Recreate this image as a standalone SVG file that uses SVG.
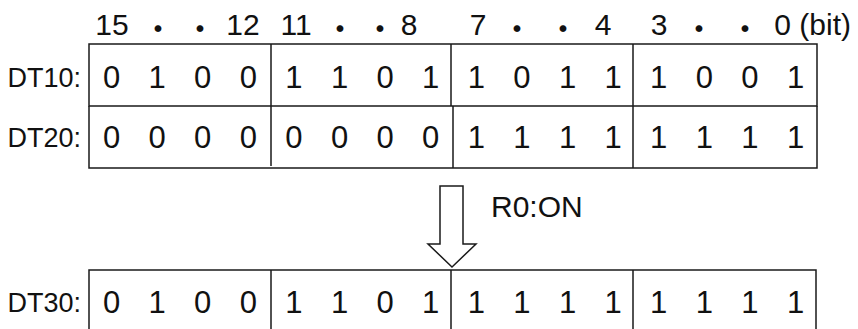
<svg xmlns="http://www.w3.org/2000/svg" width="858" height="329" viewBox="0 0 858 329">
<style>
.ln{stroke:#1a1a1a;stroke-width:1.5;fill:none}
.lbl{font-family:"Liberation Sans",Arial,sans-serif;font-size:27px;fill:#111;text-anchor:end}
.d{font-family:"Liberation Sans",Arial,sans-serif;font-size:31px;fill:#111;text-anchor:middle}
.h{font-family:"Liberation Sans",Arial,sans-serif;font-size:30px;fill:#111;text-anchor:middle}
.dot{font-family:"Liberation Sans","Noto Sans CJK JP",sans-serif;font-size:32px;fill:#111;text-anchor:middle}
</style>
<rect width="858" height="329" fill="#fff"/>
<g id="header">
<text class="h" x="112" y="35">15</text>
<text class="dot" x="158" y="41">・</text>
<text class="dot" x="200" y="41">・</text>
<text class="h" x="243" y="35">12</text>
<text class="h" x="296" y="35">11</text>
<text class="dot" x="340" y="41">・</text>
<text class="dot" x="380" y="41">・</text>
<text class="h" x="409" y="35">8</text>
<text class="h" x="478" y="35">7</text>
<text class="dot" x="517" y="41">・</text>
<text class="dot" x="563" y="41">・</text>
<text class="h" x="603" y="35">4</text>
<text class="h" x="659" y="35">3</text>
<text class="dot" x="699" y="41">・</text>
<text class="dot" x="745" y="41">・</text>
<text class="h" x="851" y="35" style="text-anchor:end">0 (bit)</text>
</g>
<g id="DT10">
<text class="lbl" x="81" y="87">DT10:</text>
<path class="ln" d="M89,44H817V106H89Z M271,44V106 M451,44V106 M633,44V106"/>
<text class="d" y="88"><tspan x="111.5">0</tspan><tspan x="157.1">1</tspan><tspan x="202.7">0</tspan><tspan x="248.3">0</tspan><tspan x="293.9">1</tspan><tspan x="339.5">1</tspan><tspan x="385.1">0</tspan><tspan x="430.7">1</tspan><tspan x="476.3">1</tspan><tspan x="521.9">0</tspan><tspan x="567.5">1</tspan><tspan x="613.1">1</tspan><tspan x="658.7">1</tspan><tspan x="704.3">0</tspan><tspan x="749.9">0</tspan><tspan x="795.5">1</tspan></text>
</g>
<g id="DT20">
<text class="lbl" x="81" y="147">DT20:</text>
<path class="ln" d="M89,106V168H817V106 M271,106V166 M453,106V168 M633,106V168"/>
<text class="d" y="148"><tspan x="111.5">0</tspan><tspan x="157.1">0</tspan><tspan x="202.7">0</tspan><tspan x="248.3">0</tspan><tspan x="293.9">0</tspan><tspan x="339.5">0</tspan><tspan x="385.1">0</tspan><tspan x="430.7">0</tspan><tspan x="476.3">1</tspan><tspan x="521.9">1</tspan><tspan x="567.5">1</tspan><tspan x="613.1">1</tspan><tspan x="658.7">1</tspan><tspan x="704.3">1</tspan><tspan x="749.9">1</tspan><tspan x="795.5">1</tspan></text>
</g>
<g id="connectors">
<polygon class="ln" style="fill:#fff" points="440,186 463,186 463,244 476,244 452,267 428,244 440,244"/>
<text class="h" x="491" y="217" style="text-anchor:start">R0:ON</text>
</g>
<g id="DT30">
<text class="lbl" x="81" y="312">DT30:</text>
<path class="ln" d="M89,329V270H816V329 M271,270V329 M451,270V329 M633,270V329"/>
<text class="d" y="313"><tspan x="111.5">0</tspan><tspan x="157.1">1</tspan><tspan x="202.7">0</tspan><tspan x="248.3">0</tspan><tspan x="293.9">1</tspan><tspan x="339.5">1</tspan><tspan x="385.1">0</tspan><tspan x="430.7">1</tspan><tspan x="476.3">1</tspan><tspan x="521.9">1</tspan><tspan x="567.5">1</tspan><tspan x="613.1">1</tspan><tspan x="658.7">1</tspan><tspan x="704.3">1</tspan><tspan x="749.9">1</tspan><tspan x="795.5">1</tspan></text>
</g>
</svg>
